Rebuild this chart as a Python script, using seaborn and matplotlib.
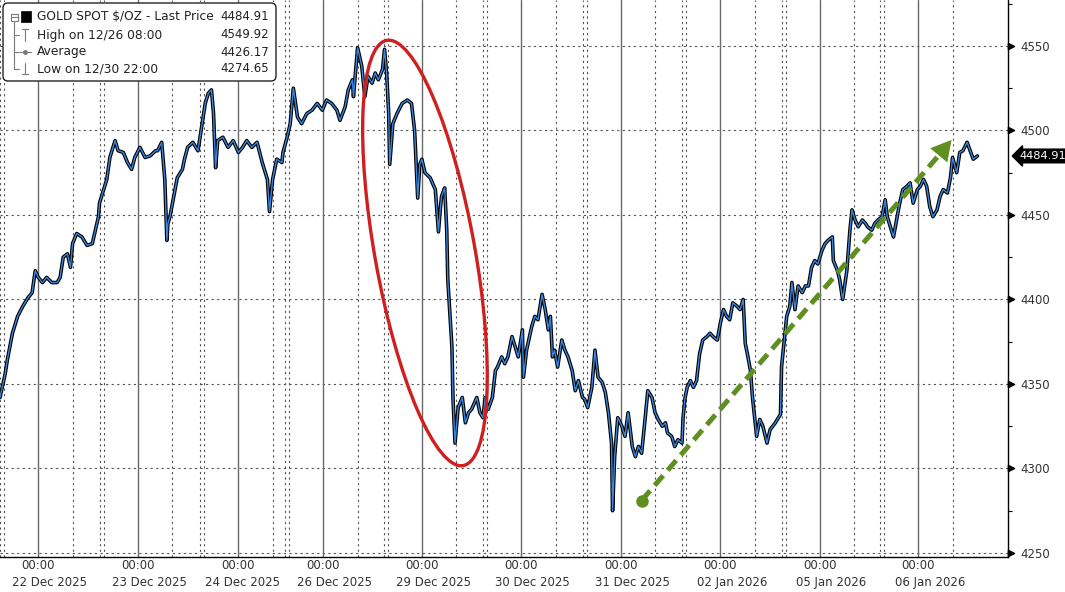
import matplotlib
matplotlib.use("Agg")
import matplotlib.pyplot as plt
import matplotlib.transforms as mtransforms
from matplotlib.patches import Ellipse, FancyBboxPatch, Rectangle
from matplotlib.lines import Line2D
from matplotlib.ticker import MultipleLocator
import pandas as pd
import seaborn as sns

# x axis = 15-minute bars counted from the 22 Dec session open
session_labels = ["22 Dec 2025", "23 Dec 2025", "24 Dec 2025", "26 Dec 2025", "29 Dec 2025",
                  "30 Dec 2025", "31 Dec 2025", "02 Jan 2026", "05 Jan 2026", "06 Jan 2026"]
session_open = [0, 96, 193, 275, 370, 466, 562, 658, 754, 849]
session_end = 945
midnight_offset = 37  # 00:00 is ~9h15 after the open

# gold spot
dec22_bar = [0, 5, 7, 12, 14, 17, 22, 27, 31, 34, 37, 41, 45, 50, 55, 58, 61, 65, 68, 70, 74, 79, 84, 89, 92, 95]
dec22_px = [4342, 4356, 4364, 4380, 4384, 4390, 4396, 4401, 4404, 4417, 4413, 4410, 4413, 4410, 4410, 4413,
            4425, 4427, 4419, 4433, 4439, 4437, 4432, 4433, 4441, 4449]
dec23_bar = [96, 99, 103, 106, 111, 114, 119, 123, 127, 130, 135, 140, 145, 150, 152, 156, 159, 161, 162, 164,
             167, 171, 176, 178, 181, 186, 191]
dec23_px = [4457, 4463, 4471, 4484, 4494, 4488, 4487, 4481, 4477, 4484, 4490, 4484, 4485, 4488, 4488, 4493,
            4471, 4435, 4445, 4449, 4459, 4472, 4477, 4483, 4490, 4493, 4488]
dec24_bar = [195, 198, 201, 204, 206, 208, 210, 215, 220, 225, 230, 234, 238, 243, 248, 253, 258, 260, 263,
             267, 272, 273]
dec24_px = [4504, 4516, 4522, 4524, 4510, 4478, 4494, 4496, 4490, 4494, 4487, 4490, 4494, 4490, 4493, 4481,
            4471, 4452, 4471, 4483, 4481, 4487]
dec26_bar = [277, 280, 283, 287, 291, 296, 301, 306, 311, 315, 320, 325, 328, 333, 336, 340, 341, 344, 345,
             349, 352, 355, 359, 362, 365, 369]
dec26_px = [4496, 4504, 4525, 4508, 4504, 4510, 4512, 4516, 4512, 4518, 4516, 4512, 4506, 4514, 4524, 4530,
            4520, 4542, 4549, 4538, 4520, 4532, 4528, 4534, 4530, 4536]
dec29_bar = [371, 373, 375, 376, 379, 383, 388, 393, 397, 400, 403, 405, 407, 410, 415, 420, 423, 425, 426,
             429, 431, 432, 434, 436, 437, 439, 442, 446, 449, 452, 455, 460, 463]
dec29_px = [4548, 4534, 4510, 4480, 4504, 4510, 4516, 4518, 4516, 4500, 4460, 4480, 4483, 4475, 4472, 4465,
            4440, 4455, 4461, 4466, 4441, 4412, 4392, 4372, 4342, 4315, 4336, 4342, 4327, 4333, 4335, 4342, 4333]
dec30_bar = [466, 468, 471, 475, 478, 480, 484, 487, 490, 494, 497, 500, 504, 505, 508, 513, 516, 519, 523,
             526, 529, 531, 533, 535, 538, 542, 545, 548, 552, 555, 558]
dec30_px = [4330, 4342, 4335, 4342, 4358, 4360, 4366, 4362, 4366, 4378, 4372, 4366, 4382, 4354, 4370, 4384,
            4390, 4388, 4403, 4394, 4382, 4390, 4366, 4370, 4360, 4376, 4370, 4366, 4358, 4346, 4352]
dec31_bar = [562, 564, 567, 571, 574, 577, 581, 584, 587, 590, 591, 593, 596, 600, 603, 606, 610, 613, 616,
             619, 622, 625, 629, 632, 635, 639, 642, 644, 648, 651, 654]
dec31_px = [4342, 4341, 4336, 4348, 4370, 4354, 4351, 4345, 4333, 4315, 4275, 4307, 4330, 4325, 4319, 4333,
            4313, 4307, 4313, 4309, 4327, 4346, 4342, 4333, 4329, 4325, 4327, 4321, 4319, 4313, 4317]
jan02_bar = [658, 659, 661, 663, 666, 669, 672, 675, 678, 682, 685, 688, 692, 695, 698, 701, 704, 707, 711,
             714, 717, 719, 721, 724, 726, 730, 733, 736, 740, 743, 748, 751, 753]
jan02_px = [4315, 4330, 4342, 4348, 4352, 4348, 4352, 4368, 4376, 4378, 4380, 4378, 4376, 4386, 4394, 4390,
            4388, 4398, 4396, 4394, 4400, 4374, 4368, 4358, 4342, 4319, 4329, 4325, 4315, 4323, 4327, 4330, 4332]
jan05_bar = [754, 757, 759, 762, 764, 767, 770, 774, 777, 780, 783, 786, 789, 793, 796, 799, 803, 804, 808,
             810, 813, 817, 820, 822, 825, 828, 832, 835, 837, 841, 844, 847]
jan05_px = [4360, 4378, 4390, 4396, 4410, 4394, 4408, 4404, 4408, 4408, 4419, 4423, 4421, 4429, 4433, 4435,
            4437, 4423, 4417, 4412, 4400, 4417, 4441, 4453, 4447, 4443, 4447, 4445, 4443, 4441, 4445, 4447]
jan06_bar = [851, 854, 856, 859, 862, 865, 868, 871, 875, 878, 881, 885, 888, 891, 894, 897, 900, 904, 907,
             910, 914, 917, 919, 923, 926, 929, 933, 936, 939, 943]
jan06_px = [4449, 4459, 4449, 4443, 4437, 4447, 4457, 4465, 4467, 4469, 4457, 4465, 4467, 4471, 4467, 4455,
            4449, 4453, 4461, 4465, 4463, 4472, 4484, 4475, 4487, 4488, 4493, 4488, 4483, 4484.91]

last_price = 4484.91
legend_rows = ["GOLD SPOT $/OZ - Last Price", "High on 12/26 08:00", "Average", "Low on 12/30 22:00"]
legend_vals = ["4484.91", "4549.92", "4426.17", "4274.65"]
y_ticks = [4250, 4300, 4350, 4400, 4450, 4500, 4550]

# annotations in (bar, price)
ellipse_center = (410, 4427.5)
arrow_start = (619, 4281)
arrow_base = (906, 4485.5)
arrow_tip = (918, 4494.4)

df = pd.DataFrame({
    "bar": dec22_bar + dec23_bar + dec24_bar + dec26_bar + dec29_bar + dec30_bar + dec31_bar
           + jan02_bar + jan05_bar + jan06_bar,
    "price": dec22_px + dec23_px + dec24_px + dec26_px + dec29_px + dec30_px + dec31_px
             + jan02_px + jan05_px + jan06_px,
})

sns.set_style("white")
plt.rcParams["font.family"] = ["DejaVu Sans"]

W, H = 1065, 592
fig = plt.figure(figsize=(W / 100, H / 100), dpi=100)
ax = fig.add_axes([0, 35 / H, 1008 / W, 557 / H])

# price line: black edge with blue core
sns.lineplot(data=df, x="bar", y="price", color="black", lw=2.6, ax=ax, estimator=None, sort=False, zorder=3)
sns.lineplot(data=df, x="bar", y="price", color="#3a86dc", lw=1.0, ax=ax, estimator=None, sort=False, zorder=4)

# grid
for t in y_ticks:
    ax.axhline(t, color="#555555", lw=0.8, ls=(0, (2, 3)), zorder=1)
bounds = session_open + [session_end]
for i, o in enumerate(session_open):
    m = o + midnight_offset
    ax.axvline(m, color="#6a6a6a", lw=1.0, zorder=1)
    for v in (o, o + 4, m + 33):
        if v < bounds[i + 1]:
            ax.axvline(v, color="#555555", lw=0.8, ls=(0, (2, 3)), zorder=1)

# red ellipse around the selloff
trans = fig.dpi_scale_trans + mtransforms.ScaledTranslation(ellipse_center[0], ellipse_center[1], ax.transData)
ax.add_patch(Ellipse((0, 0), 1.0, 4.32, angle=10.2, transform=trans, fill=False,
                     ec="#d01f1f", lw=2.4, zorder=6, clip_on=False))

# green dashed trend arrow
green = "#5f8f1f"
ax.plot([arrow_start[0], arrow_base[0]], [arrow_start[1], arrow_base[1]], color=green, lw=3.6,
        dashes=(2.6, 1.4), zorder=6)
ax.plot([arrow_start[0]], [arrow_start[1]], "o", color=green, ms=8, zorder=6)
ax.annotate("", xy=arrow_tip, xytext=arrow_base,
            arrowprops=dict(arrowstyle="-|>,head_length=0.9,head_width=0.5", mutation_scale=16,
                            color=green, lw=0, shrinkA=0, shrinkB=0), zorder=6)

ax.set_xlim(0, 972.5)
ax.set_ylim(4247.6, 4577.2)
ax.set_xlabel("")
ax.set_ylabel("")

# right y axis
ax.yaxis.tick_right()
ax.set_yticks(y_ticks)
ax.set_yticklabels([str(t) for t in y_ticks])
ax.yaxis.set_minor_locator(MultipleLocator(25))
ax.tick_params(axis="y", which="major", length=0, pad=9, labelsize=8.5, labelcolor="#333333")
ax.tick_params(axis="y", which="minor", length=3, width=0.8, color="black", direction="out")
ax.scatter([1.003] * len(y_ticks), y_ticks, marker=">", s=20, color="black",
           transform=ax.get_yaxis_transform(), clip_on=False, zorder=7)

# bottom x axis: session separators + time/date labels
ax.set_xticks(session_open)
ax.set_xticklabels([""] * len(session_open))
minor = []
for i, o in enumerate(session_open):
    m = o + midnight_offset
    minor += [v for v in (m - 16, m, m + 33, m + 54) if o < v < bounds[i + 1]]
ax.set_xticks(minor, minor=True)
ax.tick_params(axis="x", which="major", length=25, width=0.8, color="black", direction="out")
ax.tick_params(axis="x", which="minor", length=4, width=0.8, color="black", direction="out")
xt = ax.get_xaxis_transform()
for i, o in enumerate(session_open):
    ax.text(o + midnight_offset, -0.016, "00:00", transform=xt, ha="center", va="center",
            fontsize=8.5, color="#333333")
    ax.text((o + bounds[i + 1]) / 2, -0.045, session_labels[i], transform=xt, ha="center", va="center",
            fontsize=8.5, color="#333333")

for s in ("top", "left"):
    ax.spines[s].set_visible(False)
for s in ("right", "bottom"):
    ax.spines[s].set_color("black")
    ax.spines[s].set_linewidth(1.0)

# last price tag
ax.text(1.0115, last_price, f"{last_price:.2f}", transform=ax.get_yaxis_transform(), ha="left", va="center",
        color="white", fontsize=8.2, zorder=8,
        bbox=dict(boxstyle="larrow,pad=0.16", fc="black", ec="black"))

# legend box (image pixel coordinates, y down)
pxT = mtransforms.Affine2D().scale(1 / W, -1 / H).translate(0, 1) + fig.transFigure
fig.add_artist(FancyBboxPatch((3, 3), 273, 78, boxstyle="round,pad=0,rounding_size=5", transform=pxT,
                              fc="white", ec="#222222", lw=1.0, zorder=10))
rows_y = [17, 35, 52, 69]
for txt, val, y in zip(legend_rows, legend_vals, rows_y):
    fig.text(37, y, txt, transform=pxT, va="center", ha="left", fontsize=8.8, color="#222222", zorder=11)
    fig.text(269, y, val, transform=pxT, va="center", ha="right", fontsize=8.5, color="#222222", zorder=11)
gray = "#7a7a7a"
icon_lines = [
    ([14, 14], [21, 69]), ([14, 19], [35, 35]), ([14, 19], [52, 52]), ([14, 19], [69, 69]),
    ([11.5, 16.5], [17, 17]),
    ([22, 28], [29, 29]), ([25, 25], [29, 41]),
    ([20, 31], [52, 52]),
    ([25, 25], [63, 74]), ([22, 28], [74, 74]),
]
for xs, ys in icon_lines:
    fig.add_artist(Line2D(xs, ys, transform=pxT, color=gray, lw=0.8, zorder=11))
fig.add_artist(Rectangle((10.5, 13.5), 7, 7, transform=pxT, fc="white", ec=gray, lw=0.8, zorder=10.5))
fig.add_artist(Rectangle((21, 11), 10, 11, transform=pxT, fc="black", ec="black", lw=0.5, zorder=11))
fig.add_artist(Line2D([25], [52], transform=pxT, marker="o", ms=2.5, color=gray, zorder=11))

fig.savefig("out.png", dpi=100)
